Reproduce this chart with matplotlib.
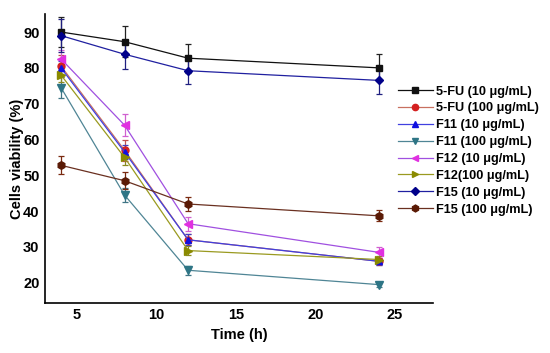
import numpy as np
import matplotlib.pyplot as plt

plt.rcParams['font.family'] = ['Liberation Sans', 'DejaVu Sans']
plt.rcParams['font.weight'] = 'bold'

time_h = [4, 8, 12, 24]

labels = ['5-FU (10 μg/mL)', '5-FU (100 μg/mL)', 'F11 (10 μg/mL)', 'F11 (100 μg/mL)',
          'F12 (10 μg/mL)', 'F12(100 μg/mL)', 'F15 (10 μg/mL)', 'F15 (100 μg/mL)']

fu_10 = [90.0, 87.3, 82.7, 80.0]
fu_100 = [80.5, 57.0, 32.0, 26.0]
f11_10 = [80.0, 56.5, 32.0, 26.0]
f11_100 = [74.5, 44.5, 23.5, 19.5]
f12_10 = [82.5, 64.0, 36.5, 28.5]
f12_100 = [78.0, 55.0, 29.0, 26.5]
f15_10 = [89.0, 83.8, 79.2, 76.5]
f15_100 = [52.8, 48.5, 42.0, 38.7]

fu_10_err = [4.3, 4.3, 4.0, 3.8]
fu_100_err = [3.0, 3.0, 1.5, 1.0]
f11_10_err = [2.0, 2.0, 1.5, 1.0]
f11_100_err = [3.0, 2.0, 1.2, 0.8]
f12_10_err = [2.5, 3.0, 2.0, 1.5]
f12_100_err = [2.0, 2.0, 1.2, 1.0]
f15_10_err = [4.5, 4.0, 3.8, 3.8]
f15_100_err = [2.5, 2.3, 2.0, 1.5]

series = [fu_10, fu_100, f11_10, f11_100, f12_10, f12_100, f15_10, f15_100]
errors = [fu_10_err, fu_100_err, f11_10_err, f11_100_err, f12_10_err, f12_100_err, f15_10_err, f15_100_err]
markers = ['s', 'o', '^', 'v', '<', '>', 'D', 'h']
mcolors = ['#111111', '#d42020', '#1010e0', '#2e7585', '#e030e0', '#8a8a00', '#00008a', '#5a1a05']
lcolors = ['#111111', '#c87060', '#4040e0', '#4f8595', '#a050e0', '#9a9a20', '#2020a0', '#6a3020']
ecolors = ['#222222', '#c05050', '#4040c0', '#3f7585', '#d060d0', '#8a8a20', '#202080', '#7a2a10']
msizes = [5, 5, 5, 5.5, 5.5, 5.5, 4.5, 5.5]

fig = plt.figure(figsize=(5.5, 3.53), dpi=100)
ax = fig.add_axes([0.082, 0.142, 0.705, 0.818])

for i in range(len(series)):
    ax.errorbar(time_h, series[i], yerr=errors[i], marker=markers[i], ms=msizes[i],
                color=lcolors[i], mfc=mcolors[i], mec=mcolors[i], ecolor=ecolors[i],
                lw=0.9, elinewidth=0.9, capsize=2.5, capthick=0.9, label=labels[i])

ax.set_xlim(3, 27.4)
ax.set_ylim(14.4, 95)
ax.set_xticks([5, 10, 15, 20, 25])
ax.set_yticks([20, 30, 40, 50, 60, 70, 80, 90])
ax.tick_params(length=0, labelsize=10.5, pad=4)
for s in ['top', 'right']:
    ax.spines[s].set_visible(False)
ax.spines['left'].set_linewidth(1.2)
ax.spines['bottom'].set_linewidth(1.2)
ax.set_xlabel('Time (h)', fontsize=10.5, fontweight='bold', labelpad=4)
ax.set_ylabel('Cells viability (%)', fontsize=10.5, fontweight='bold', labelpad=-1)

handles, lbls = ax.get_legend_handles_labels()
handles = [h[0] for h in handles]
fig.legend(handles, lbls, loc='upper left', bbox_to_anchor=(0.703, 0.79), frameon=False,
           handlelength=2.7, labelspacing=0.38, handletextpad=0.3, markerscale=0.9,
           prop={'weight': 'bold', 'size': 9.2})

plt.savefig('out.png', dpi=100)
